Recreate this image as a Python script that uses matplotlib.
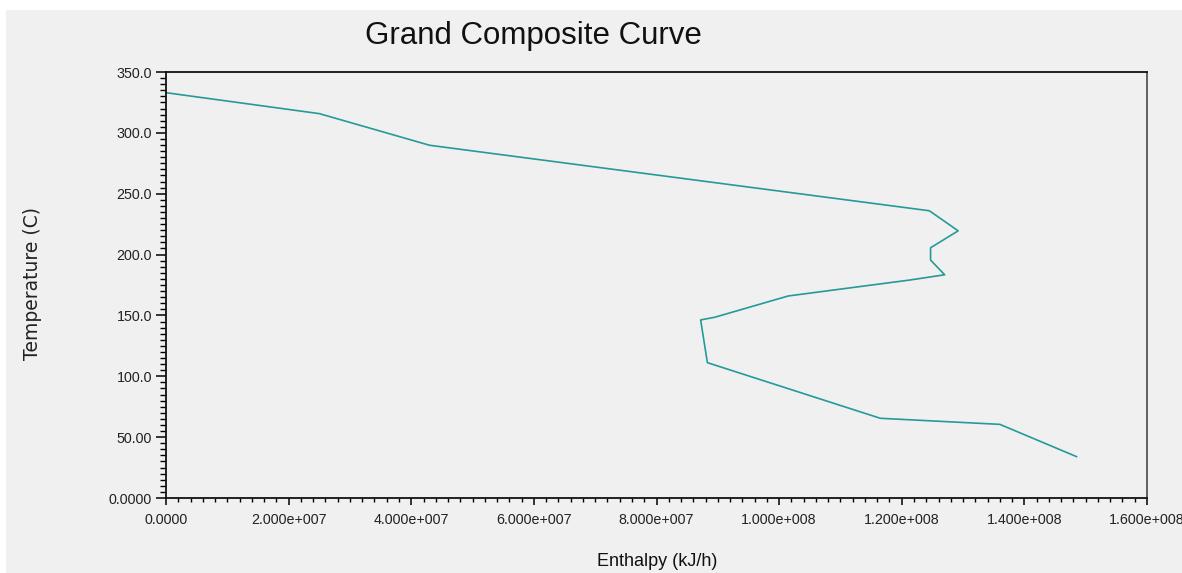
import matplotlib
matplotlib.use("Agg")
import matplotlib.pyplot as plt
from matplotlib.ticker import MultipleLocator, FixedLocator, FixedFormatter
from matplotlib.patches import Rectangle

# Data
enthalpy = [0.0, 2.50e7, 4.30e7, 1.245e8, 1.292e8, 1.247e8, 1.247e8, 1.270e8,
            1.212e8, 1.015e8, 8.95e7, 8.72e7, 8.83e7, 1.165e8, 1.360e8, 1.485e8]
temperature = [333.0, 315.8, 289.8, 236.0, 219.5, 205.6, 195.5, 183.4,
               179.0, 166.0, 148.5, 146.3, 111.2, 65.5, 60.5, 34.0]

x_ticks = [0, 2e7, 4e7, 6e7, 8e7, 1e8, 1.2e8, 1.4e8, 1.6e8]
x_tick_labels = ["0.0000", "2.000e+007", "4.000e+007", "6.000e+007", "8.000e+007",
                 "1.000e+008", "1.200e+008", "1.400e+008", "1.600e+008"]
y_ticks = [0, 50, 100, 150, 200, 250, 300, 350]
y_tick_labels = ["0.0000", "50.00", "100.0", "150.0", "200.0", "250.0", "300.0", "350.0"]

W, H = 1182, 573
fig = plt.figure(figsize=(W / 100, H / 100), dpi=100, facecolor="white")
panel = "#f0f0f0"
fig.patches.append(Rectangle((6 / W, 0), 1 - 6 / W, 1 - 10 / H, transform=fig.transFigure,
                             facecolor=panel, edgecolor="none", zorder=-10))

L, R, T, B = 166, 1147, 72, 498
ax = fig.add_axes([L / W, 1 - B / H, (R - L) / W, (B - T) / H])
ax.set_zorder(1)
ax.set_facecolor(panel)

ax.plot(enthalpy, temperature, color="#259a98", lw=1.2)

ax.set_xlim(0, 1.6e8)
ax.set_ylim(0, 350)
ax.xaxis.set_major_locator(FixedLocator(x_ticks))
ax.xaxis.set_major_formatter(FixedFormatter(x_tick_labels))
ax.yaxis.set_major_locator(FixedLocator(y_ticks))
ax.yaxis.set_major_formatter(FixedFormatter(y_tick_labels))
ax.xaxis.set_minor_locator(MultipleLocator(2e6))
ax.yaxis.set_minor_locator(MultipleLocator(5))

for lab in ax.get_xticklabels() + ax.get_yticklabels():
    lab.set_fontfamily(["Liberation Sans", "DejaVu Sans"])
    lab.set_fontsize(10.3)
    lab.set_color("#222222")

ax.tick_params(axis="x", which="major", direction="out", length=5, width=1.1, pad=6)
ax.tick_params(axis="x", which="minor", direction="out", length=3, width=1.0)
ax.tick_params(axis="y", which="major", direction="out", length=7, width=1.1, pad=3)
ax.tick_params(axis="y", which="minor", direction="out", length=4, width=1.0)
for s in ax.spines.values():
    s.set_linewidth(1.3)
    s.set_color("#111111")
ax.spines["right"].set_color("#555555")

fig.text(533 / W, 1 - 36 / H, "Grand Composite Curve",
         family=["Liberation Sans Narrow", "Liberation Sans"], size=22.5,
         ha="center", va="center", color="#111111")
fig.text(657 / W, 1 - 561 / H, "Enthalpy (kJ/h)",
         family=["Liberation Sans Narrow", "Liberation Sans"], size=13,
         ha="center", va="center", color="#111111")
fig.text(33 / W, 1 - 284 / H, "Temperature (C)",
         family=["DejaVu Sans"], size=13.5, rotation=90,
         ha="center", va="center", color="#222222")

fig.savefig("out.png", dpi=100, facecolor="white")
